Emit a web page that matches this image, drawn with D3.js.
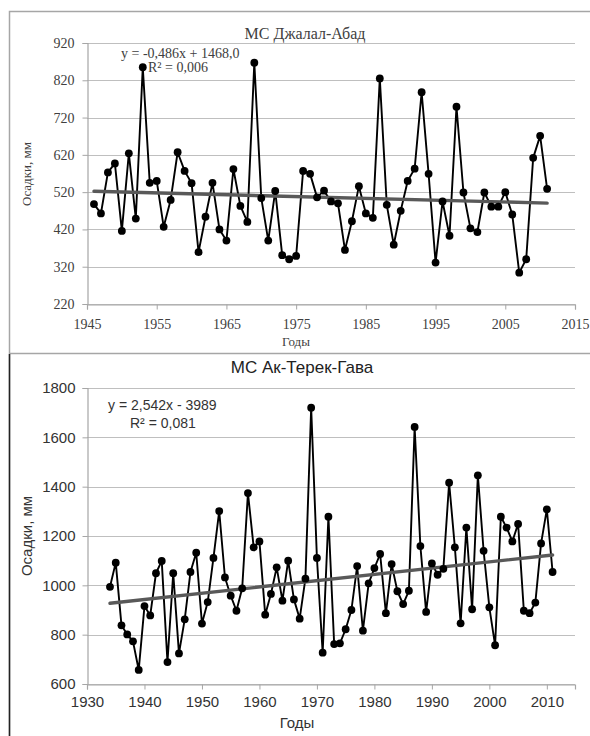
<!DOCTYPE html>
<html><head><meta charset="utf-8">
<script src="https://cdn.jsdelivr.net/npm/d3@7"></script>
<style>
html,body{margin:0;padding:0;background:#fff;}
svg{display:block;}
</style></head>
<body>
<svg id="c" width="590" height="736"></svg>
<script>
// ---- Chart 1: МС Джалал-Абад ----
const title1 = "МС Джалал-Абад";
const years1 = [1946,1947,1948,1949,1950,1951,1952,1953,1954,1955,1956,1957,1958,1959,1960,
  1961,1962,1963,1964,1965,1966,1967,1968,1969,1970,1971,1972,1973,1974,1975,1976,1977,1978,
  1979,1980,1981,1982,1983,1984,1985,1986,1987,1988,1989,1990,1991,1992,1993,1994,1995,1996,
  1997,1998,1999,2000,2001,2002,2003,2004,2005,2006,2007,2008,2009,2010,2011];
const precip1 = [488,463,573,597,416,624,449,855,545,550,427,499,627,577,544,
  359,454,545,420,390,582,483,440,867,504,390,523,351,340,349,577,569,506,
  524,495,490,365,442,536,463,451,825,486,379,470,550,583,788,569,331,495,
  403,749,519,423,413,519,481,481,520,460,304,340,612,671,529];
const yTicks1 = [220,320,420,520,620,720,820,920];
const xTicks1 = [1945,1955,1965,1975,1985,1995,2005,2015];
const trend1 = {slope:-0.486, intercept:1468.0};
const eq1 = ["y = -0,486x + 1468,0", "R² = 0,006"];

// ---- Chart 2: МС Ак-Терек-Гава ----
const title2 = "МС Ак-Терек-Гава";
const years2 = [1934,1935,1936,1937,1938,1939,1940,1941,1942,1943,1944,1945,1946,1947,1948,
  1949,1950,1951,1952,1953,1954,1955,1956,1957,1958,1959,1960,1961,1962,1963,1964,1965,1966,
  1967,1968,1969,1970,1971,1972,1973,1974,1975,1976,1977,1978,1979,1980,1981,1982,1983,1984,
  1985,1986,1987,1988,1989,1990,1991,1992,1993,1994,1995,1996,1997,1998,1999,2000,2001,2002,
  2003,2004,2005,2006,2007,2008,2009,2010,2011];
const precip2 = [994,1092,838,801,773,657,916,878,1049,1099,689,1049,724,862,1054,
  1132,845,932,1111,1301,1032,958,897,988,1374,1154,1178,881,965,1073,938,1100,943,
  865,1027,1720,1111,727,1278,762,765,822,900,1078,816,1008,1070,1127,887,1086,976,
  924,978,1642,1159,892,1089,1043,1067,1416,1154,846,1234,903,1446,1140,911,757,1278,
  1234,1178,1249,897,887,930,1170,1308,1054];
const yTicks2 = [600,800,1000,1200,1400,1600,1800];
const xTicks2 = [1930,1940,1950,1960,1970,1980,1990,2000,2010];
const trend2 = {slope:2.542, intercept:-3989};
const eq2 = ["y = 2,542x - 3989", "R² = 0,081"];

const yLabel = "Осадки, мм";
const xLabel = "Годы";

const svg = d3.select("#c");

// frames
svg.append("path").attr("d","M9.5,736 V11.5 H590").attr("fill","none").attr("stroke","#a6a6a6").attr("stroke-width",1.5);
svg.append("line").attr("x1",9).attr("x2",590).attr("y1",353.5).attr("y2",353.5).attr("stroke","#a6a6a6").attr("stroke-width",1.5);
svg.append("line").attr("x1",9.5).attr("x2",9.5).attr("y1",354).attr("y2",736).attr("stroke","#222").attr("stroke-width",1.5);

function drawChart(cfg){
  const g = svg.append("g");
  const x = d3.scaleLinear().domain(cfg.xDomain).range([cfg.left, cfg.right]);
  const y = d3.scaleLinear().domain(cfg.yDomain).range([cfg.bottom, cfg.top]);
  // gridlines
  g.append("g").selectAll("line").data(cfg.yTicks).join("line")
    .attr("x1",cfg.left).attr("x2",cfg.right)
    .attr("y1",d=>Math.round(y(d))+0.5).attr("y2",d=>Math.round(y(d))+0.5)
    .attr("stroke","#bfbfbf").attr("stroke-width",1.2);
  // y axis
  const ya = g.append("g").attr("transform",`translate(${cfg.left+0.5},0)`)
    .call(d3.axisLeft(y).tickValues(cfg.yTicks).tickSize(5).tickPadding(cfg.yPad).tickFormat(d3.format("d")));
  ya.select(".domain").attr("stroke","#a6a6a6").attr("stroke-width",1.2);
  ya.selectAll(".tick line").attr("stroke","#a6a6a6");
  ya.selectAll("text").attr("font-family",cfg.font).attr("font-size",cfg.tickSize).attr("fill",cfg.textColor);
  // x axis
  const xa = g.append("g").attr("transform",`translate(0,${Math.round(cfg.bottom)+0.5})`)
    .call(d3.axisBottom(x).tickValues(cfg.xTicks).tickSize(5).tickPadding(cfg.xPad).tickFormat(d3.format("d")));
  xa.select(".domain").attr("stroke","#a6a6a6").attr("stroke-width",1.2);
  xa.selectAll(".tick line").attr("stroke","#a6a6a6");
  xa.selectAll("text").attr("font-family",cfg.font).attr("font-size",cfg.tickSize).attr("fill",cfg.textColor);
  // data line
  const pts = cfg.years.map((yr,i)=>[yr,cfg.values[i]]);
  g.append("path").datum(pts)
    .attr("d",d3.line().x(d=>x(d[0])).y(d=>y(d[1])))
    .attr("fill","none").attr("stroke","#000").attr("stroke-width",1.9).attr("stroke-linejoin","round");
  // trend line
  const y0 = cfg.years[0], y1 = cfg.years[cfg.years.length-1];
  g.append("line")
    .attr("x1",x(y0)).attr("y1",y(cfg.trend.slope*y0+cfg.trend.intercept))
    .attr("x2",x(y1)).attr("y2",y(cfg.trend.slope*y1+cfg.trend.intercept))
    .attr("stroke","#595959").attr("stroke-width",3.4).attr("stroke-linecap","round");
  // markers
  g.append("g").selectAll("circle").data(pts).join("circle")
    .attr("cx",d=>x(d[0])).attr("cy",d=>y(d[1])).attr("r",3.9).attr("fill","#000");
  // title
  g.append("text").attr("x",cfg.titleX).attr("y",cfg.titleY).attr("text-anchor","middle")
    .attr("font-family",cfg.font).attr("font-size",cfg.titleSize).attr("fill",cfg.titleColor).text(cfg.title);
  // equation
  cfg.eq.forEach((t,i)=>{
    g.append("text").attr("x",cfg.eqX[i]).attr("y",cfg.eqY[i])
      .attr("font-family",cfg.font).attr("font-size",cfg.eqSize).attr("fill",cfg.textColor).text(t);
  });
  // axis titles
  g.append("text").attr("transform",`translate(${cfg.yLabX},${cfg.yLabY}) rotate(-90)`)
    .attr("text-anchor","middle").attr("font-family",cfg.font).attr("font-size",cfg.labSize)
    .attr("fill",cfg.textColor).text(yLabel);
  g.append("text").attr("x",cfg.xLabX).attr("y",cfg.xLabY).attr("text-anchor","middle")
    .attr("font-family",cfg.font).attr("font-size",cfg.labSize)
    .attr("fill",cfg.textColor).text(xLabel);
}

drawChart({
  title:title1, years:years1, values:precip1, yTicks:yTicks1, xTicks:xTicks1, trend:trend1, eq:eq1,
  xDomain:[1945,2015], yDomain:[220,920], left:87, right:575, top:43, bottom:304,
  font:"'Liberation Serif','Times New Roman',serif", tickSize:14, titleSize:16, eqSize:14, labSize:13,
  textColor:"#404040", titleColor:"#404040", yPad:8, xPad:10,
  titleX:305, titleY:39, eqX:[121,148], eqY:[58,72],
  yLabX:31, yLabY:174, xLabX:296, xLabY:346
});

drawChart({
  title:title2, years:years2, values:precip2, yTicks:yTicks2, xTicks:xTicks2, trend:trend2, eq:eq2,
  xDomain:[1930,2014.9], yDomain:[600,1800], left:87, right:575, top:388, bottom:684,
  font:"'Liberation Sans',Arial,sans-serif", tickSize:15, titleSize:17, eqSize:14, labSize:15,
  textColor:"#333", titleColor:"#222", yPad:7, xPad:7,
  titleX:302, titleY:373, eqX:[108,130], eqY:[410,428],
  yLabX:32, yLabY:536, xLabX:297, xLabY:728
});
</script>
</body></html>
